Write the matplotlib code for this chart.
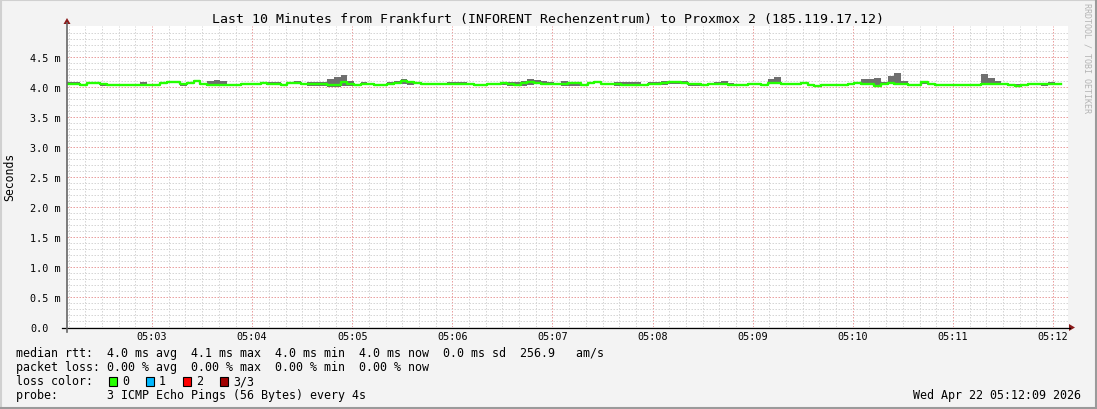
import numpy as np
import matplotlib
matplotlib.use("Agg")
import matplotlib.pyplot as plt
from matplotlib.patches import Polygon, Rectangle
from matplotlib.lines import Line2D

# ---------------- data (ms) ----------------
start_s = 129          # 05:02:09 in seconds after 05:00:00
step_s = 4             # one probe every 4 s
end_s = 729            # 05:12:09

median_ms = [
    4.044, 4.044, 4.039, 4.067, 4.067, 4.050, 4.039, 4.039, 4.039, 4.039,
    4.039, 4.039, 4.039, 4.039, 4.067, 4.078, 4.078, 4.050, 4.067, 4.094,
    4.056, 4.039, 4.039, 4.039, 4.039, 4.039, 4.050, 4.044, 4.044, 4.067,
    4.044, 4.044, 4.039, 4.067, 4.067, 4.050, 4.050, 4.050, 4.050, 4.039,
    4.039, 4.078, 4.056, 4.039, 4.050, 4.050, 4.039, 4.039, 4.050, 4.067,
    4.106, 4.078, 4.067, 4.050, 4.050, 4.050, 4.050, 4.050, 4.050, 4.050,
    4.050, 4.039, 4.039, 4.050, 4.050, 4.067, 4.050, 4.039, 4.067, 4.078,
    4.067, 4.050, 4.056, 4.050, 4.050, 4.067, 4.067, 4.039, 4.067, 4.078,
    4.050, 4.050, 4.050, 4.039, 4.039, 4.039, 4.039, 4.050, 4.050, 4.067,
    4.089, 4.089, 4.067, 4.050, 4.050, 4.039, 4.050, 4.050, 4.050, 4.039,
    4.039, 4.039, 4.050, 4.050, 4.039, 4.067, 4.067, 4.056, 4.050, 4.050,
    4.067, 4.039, 4.011, 4.039, 4.039, 4.039, 4.039, 4.050, 4.067, 4.050,
    4.050, 4.011, 4.050, 4.067, 4.050, 4.050, 4.039, 4.039, 4.078, 4.050,
    4.039, 4.039, 4.039, 4.039, 4.039, 4.039, 4.039, 4.050, 4.050, 4.050,
    4.050, 4.039, 4.011, 4.039, 4.050, 4.050, 4.050, 4.050, 4.050, np.nan,
]
max_ms = [
    4.078, 4.078, 4.039, 4.078, 4.078, 4.050, 4.039, 4.039, 4.050, 4.039,
    4.050, 4.083, 4.039, 4.039, 4.083, 4.078, 4.078, 4.050, 4.067, 4.094,
    4.056, 4.106, 4.117, 4.100, 4.050, 4.039, 4.067, 4.044, 4.044, 4.078,
    4.078, 4.078, 4.039, 4.078, 4.094, 4.050, 4.078, 4.078, 4.078, 4.133,
    4.161, 4.200, 4.094, 4.039, 4.083, 4.050, 4.039, 4.039, 4.078, 4.094,
    4.133, 4.094, 4.078, 4.050, 4.050, 4.050, 4.067, 4.078, 4.078, 4.078,
    4.067, 4.039, 4.039, 4.067, 4.067, 4.078, 4.078, 4.078, 4.106, 4.133,
    4.122, 4.094, 4.078, 4.050, 4.094, 4.067, 4.067, 4.039, 4.078, 4.106,
    4.050, 4.050, 4.078, 4.078, 4.078, 4.078, 4.039, 4.078, 4.078, 4.094,
    4.106, 4.106, 4.094, 4.050, 4.050, 4.039, 4.067, 4.078, 4.094, 4.067,
    4.039, 4.039, 4.056, 4.056, 4.039, 4.133, 4.161, 4.067, 4.050, 4.050,
    4.067, 4.039, 4.011, 4.039, 4.039, 4.039, 4.039, 4.067, 4.078, 4.133,
    4.133, 4.150, 4.078, 4.189, 4.233, 4.094, 4.039, 4.039, 4.094, 4.050,
    4.039, 4.039, 4.039, 4.039, 4.039, 4.039, 4.039, 4.217, 4.150, 4.094,
    4.050, 4.039, 4.050, 4.039, 4.050, 4.050, 4.050, 4.078, 4.078, np.nan,
]
min_ms = [
    4.044, 4.044, 4.039, 4.067, 4.067, 4.022, 4.011, 4.011, 4.011, 4.011,
    4.011, 4.039, 4.039, 4.039, 4.067, 4.078, 4.078, 4.022, 4.067, 4.094,
    4.039, 4.022, 4.022, 4.039, 4.022, 4.022, 4.050, 4.044, 4.044, 4.044,
    4.044, 4.044, 4.022, 4.067, 4.067, 4.050, 4.022, 4.011, 4.011, 3.994,
    4.000, 4.022, 4.022, 4.011, 4.050, 4.050, 4.011, 4.011, 4.050, 4.067,
    4.050, 4.039, 4.067, 4.050, 4.050, 4.050, 4.050, 4.050, 4.050, 4.050,
    4.050, 4.039, 4.039, 4.050, 4.050, 4.039, 4.022, 4.022, 4.022, 4.039,
    4.050, 4.050, 4.056, 4.050, 4.022, 4.011, 4.011, 4.039, 4.067, 4.078,
    4.039, 4.050, 4.022, 4.022, 4.022, 4.022, 4.039, 4.050, 4.050, 4.039,
    4.050, 4.050, 4.050, 4.022, 4.011, 4.022, 4.050, 4.050, 4.050, 4.039,
    4.039, 4.039, 4.050, 4.050, 4.039, 4.067, 4.067, 4.056, 4.050, 4.050,
    4.067, 4.039, 4.011, 4.039, 4.039, 4.022, 4.022, 4.050, 4.067, 4.050,
    4.039, 4.011, 4.050, 4.067, 4.050, 4.050, 4.039, 4.039, 4.050, 4.050,
    4.039, 4.039, 4.039, 4.039, 4.039, 4.039, 4.039, 4.050, 4.050, 4.050,
    4.039, 4.022, 4.011, 4.039, 4.050, 4.050, 4.022, 4.050, 4.050, np.nan,
]

y_ticks = [0.0, 0.5, 1.0, 1.5, 2.0, 2.5, 3.0, 3.5, 4.0, 4.5]
y_ticklabels = ["0.0", "0.5 m", "1.0 m", "1.5 m", "2.0 m", "2.5 m",
                "3.0 m", "3.5 m", "4.0 m", "4.5 m"]
x_ticks = [180, 240, 300, 360, 420, 480, 540, 600, 660, 720]
x_ticklabels = ["05:03", "05:04", "05:05", "05:06", "05:07",
                "05:08", "05:09", "05:10", "05:11", "05:12"]

title = "Last 10 Minutes from Frankfurt (INFORENT Rechenzentrum) to Proxmox 2 (185.119.17.12)"
legend_rows = [
    "median rtt:  4.0 ms avg  4.1 ms max  4.0 ms min  4.0 ms now  0.0 ms sd  256.9   am/s",
    "packet loss: 0.00 % avg  0.00 % max  0.00 % min  0.00 % now",
    "loss color:",
    "probe:       3 ICMP Echo Pings (56 Bytes) every 4s",
]
loss_labels = ["0", "1", "2", "3/3"]
loss_colors = ["#26ff00", "#00b8ff", "#ff0000", "#a10000"]
timestamp = "Wed Apr 22 05:12:09 2026"
watermark = "RRDTOOL / TOBI OETIKER"

# ---------------- layout ----------------
W, H = 1097, 410
BG = "#f3f3f3"
MONO = "DejaVu Sans Mono"

fig = plt.figure(figsize=(W / 100, H / 100), dpi=100, facecolor=BG)


def fx(x):
    return x / W


def fy(y):
    return 1 - y / H


L, R, T, B = 67, 1068, 27, 328
ax = fig.add_axes([fx(L), fy(B), (R - L) / W, (B - T) / H])
ax.set_facecolor("white")

n = len(median_ms)
edges = start_s + step_s * np.arange(n + 1)
med = np.array(median_ms + [median_ms[-1]])
hi = np.array(max_ms + [max_ms[-1]])
lo = np.array(min_ms + [min_ms[-1]])

ax.fill_between(edges, lo, hi, step="post", color="#6f6f6f", lw=0, zorder=3)
ax.step(edges, med, where="post", color="#26ff00", lw=1.7, zorder=4)

ax.set_xlim(start_s, end_s)
ax.set_ylim(0, (B - T) / 60.0)

# minor grid positions, skipping those that coincide with major lines
x_minor = [s for s in range(130, 730, 10) if s % 60 != 0]
y_minor = [k / 10 for k in range(1, 51) if k % 5 != 0]

ax.set_xticks(x_ticks)
ax.set_xticklabels(x_ticklabels, fontfamily=MONO, fontsize=7.3)
ax.set_xticks(x_minor, minor=True)
ax.set_yticks(y_ticks)
ax.set_yticklabels(y_ticklabels, fontfamily=MONO, fontsize=7.3)
ax.set_yticks(y_minor, minor=True)
ax.tick_params(axis="both", which="both", length=0)
ax.tick_params(axis="y", pad=(L - 30) * 0.72)
ax.tick_params(axis="x", pad=3)
for lbl in ax.get_yticklabels():
    lbl.set_horizontalalignment("left")

ax.grid(which="minor", color="#d6d6d6", lw=0.72, ls=(0, (1.5, 1.5)))
ax.grid(which="major", color="#eaa0a0", lw=0.72, ls=(0, (1.5, 1.5)))
ax.set_axisbelow(True)

for s in ax.spines.values():
    s.set_visible(False)

# axis lines with arrows
fig.add_artist(Line2D([fx(62), fx(1070)], [fy(328.5), fy(328.5)], color="black", lw=0.9))
fig.add_artist(Line2D([fx(67), fx(67)], [fy(333), fy(24)], color="#666666", lw=1.2))
fig.add_artist(Polygon([[fx(1069), fy(325)], [fx(1069), fy(332)], [fx(1075), fy(328.5)]],
                       closed=True, color="#8b1a1a", lw=0))
fig.add_artist(Polygon([[fx(63.5), fy(25)], [fx(70.5), fy(25)], [fx(67), fy(19)]],
                       closed=True, color="#8b1a1a", lw=0))

# texts
fig.text(0.5, fy(19), title, ha="center", va="center", fontfamily=MONO, fontsize=9.5)
fig.text(fx(10), fy(177), "Seconds", rotation=90, ha="center", va="center",
         fontfamily=MONO, fontsize=8.3)
fig.text(fx(1087), fy(58), watermark, rotation=270, ha="center", va="center",
         fontfamily=MONO, fontsize=6, color="#b4b4b4")

row_y = [354, 368, 382, 396]
for txt, yy in zip(legend_rows, row_y):
    fig.text(fx(16), fy(yy), txt, ha="left", va="center", fontfamily=MONO, fontsize=8.4)

box_x = [109, 146, 183, 220]
for bx, lab, col in zip(box_x, loss_labels, loss_colors):
    fig.add_artist(Rectangle((fx(bx), fy(386.5)), 8 / W, 9 / H, facecolor=col,
                             edgecolor="black", lw=0.8))
    fig.text(fx(bx + 13), fy(382), lab, ha="left", va="center", fontfamily=MONO, fontsize=8.4)

fig.text(fx(1081), fy(396), timestamp, ha="right", va="center", fontfamily=MONO, fontsize=8.4)

# frame
fig.add_artist(Line2D([0, 1], [fy(0.5), fy(0.5)], color="#d0d0d0", lw=1.5))
fig.add_artist(Line2D([fx(0.5), fx(0.5)], [0, 1], color="#d0d0d0", lw=1.5))
fig.add_artist(Line2D([0, 1], [fy(409), fy(409)], color="#9a9a9a", lw=1.5))
fig.add_artist(Line2D([fx(1096), fx(1096)], [0, 1], color="#9a9a9a", lw=1.5))

fig.savefig("out.png", dpi=100, facecolor=BG)
